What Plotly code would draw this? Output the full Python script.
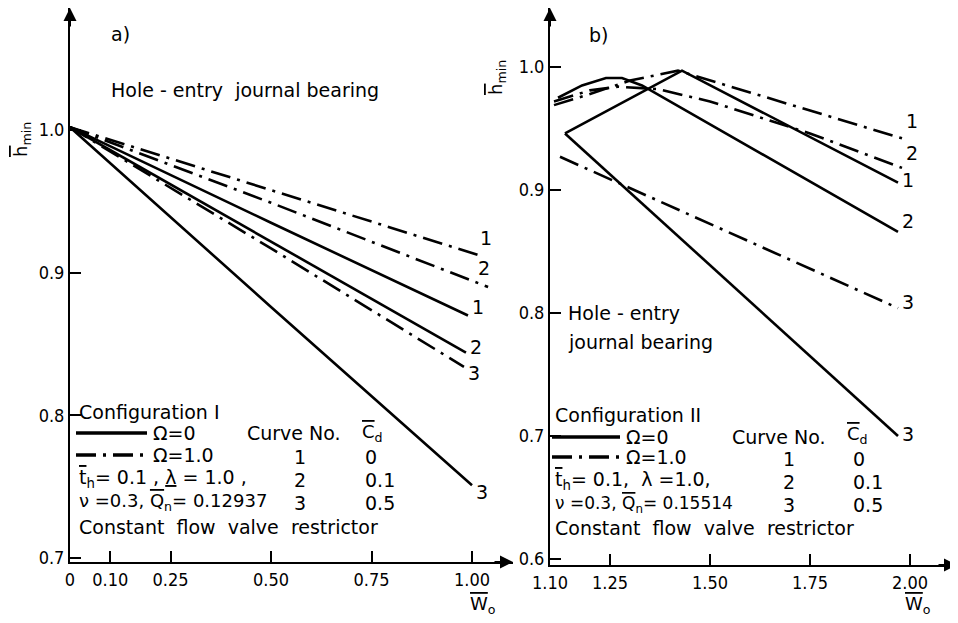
import plotly.graph_objects as go

# ---------------- data: panel a (Configuration I) ----------------
a_solid1_w = [0.0, 0.50, 0.99]
a_solid1_h = [1.002, 0.935, 0.870]
a_solid2_w = [0.0, 0.50, 0.985]
a_solid2_h = [1.002, 0.922, 0.844]
a_solid3_w = [0.0, 0.50, 1.00]
a_solid3_h = [1.002, 0.876, 0.751]
a_dd1_w = [0.0, 0.50, 1.02]
a_dd1_h = [1.002, 0.958, 0.912]
a_dd2_w = [0.0, 0.50, 1.04]
a_dd2_h = [1.002, 0.949, 0.890]
a_dd3_w = [0.0, 0.50, 0.98]
a_dd3_h = [1.002, 0.917, 0.834]

a_xticks = [0.0, 0.10, 0.25, 0.50, 0.75, 1.00]
a_xticktext = ["0", "0.10", "0.25", "0.50", "0.75", "1.00"]
a_yticks = [0.7, 0.8, 0.9, 1.0]
a_yticktext = ["0.7", "0.8", "0.9", "1.0"]

# ---------------- data: panel b (Configuration II) ----------------
b_solid1_w = [1.1375, 1.43, 1.97]
b_solid1_h = [0.946, 0.997, 0.906]
b_solid2_w = [1.12, 1.18, 1.24, 1.28, 1.33, 1.97]
b_solid2_h = [0.975, 0.985, 0.991, 0.991, 0.985, 0.866]
b_solid3_w = [1.1375, 1.97]
b_solid3_h = [0.946, 0.700]
b_dd1_w = [1.11, 1.20, 1.30, 1.42, 1.98]
b_dd1_h = [0.969, 0.978, 0.989, 0.997, 0.942]
b_dd2_w = [1.11, 1.20, 1.27, 1.37, 1.50, 1.75, 1.98]
b_dd2_h = [0.972, 0.981, 0.984, 0.982, 0.972, 0.946, 0.918]
b_dd3_w = [1.125, 1.97]
b_dd3_h = [0.927, 0.804]

b_xticks = [1.10, 1.25, 1.50, 1.75, 2.00]
b_xticktext = ["1.10", "1.25", "1.50", "1.75", "2.00"]
b_yticks = [0.6, 0.7, 0.8, 0.9, 1.0]
b_yticktext = ["0.6", "0.7", "0.8", "0.9", "1.0"]

curve_nums = ["1", "2", "3"]
cd_vals = ["0", "0.1", "0.5"]

# ---------------- figure ----------------
W, H = 958, 623
OFF = 8  # page body margin
FONT = "DejaVu Sans"
TFONT = "DejaVu Sans Condensed, DejaVu Sans"
FS = 19
DD = "20px,7px,3px,7px"


def px(x):
    return (x - OFF) / W


def py(y):
    return 1 - (y - OFF) / H


def ol(s):
    return "<span style='text-decoration:overline'>" + s + "</span>"


fig = go.Figure()


def add(xs, ys, dash, xa, ya):
    fig.add_trace(go.Scatter(x=xs, y=ys, mode="lines", xaxis=xa, yaxis=ya,
                             line=dict(color="black", width=2.6, dash=dash),
                             hoverinfo="skip", showlegend=False))


add(a_solid1_w, a_solid1_h, "solid", "x", "y")
add(a_solid2_w, a_solid2_h, "solid", "x", "y")
add(a_solid3_w, a_solid3_h, "solid", "x", "y")
add(a_dd1_w, a_dd1_h, DD, "x", "y")
add(a_dd2_w, a_dd2_h, DD, "x", "y")
add(a_dd3_w, a_dd3_h, DD, "x", "y")

add(b_solid1_w, b_solid1_h, "solid", "x2", "y2")
add(b_solid2_w, b_solid2_h, "solid", "x2", "y2")
add(b_solid3_w, b_solid3_h, "solid", "x2", "y2")
add(b_dd1_w, b_dd1_h, DD, "x2", "y2")
add(b_dd2_w, b_dd2_h, DD, "x2", "y2")
add(b_dd3_w, b_dd3_h, DD, "x2", "y2")

axis_common = dict(showline=True, linecolor="black", linewidth=2, ticks="inside",
                   ticklen=11, tickwidth=1.6, tickcolor="black", showgrid=False,
                   zeroline=False, automargin=False,
                   tickfont=dict(family=TFONT, size=18, color="black"))

a_xr = [0.0, (513 - 70) / 402]
a_yr = [1 - (562 - 130) / 1427, 1 + (130 - 8) / 1427]
b_xr = [1.10, 1.10 + (957 - 550) / 400]
b_yr = [1 - (565 - 67) / 1230, 1 + (67 - 8) / 1230]

fig.update_layout(
    width=W, height=H, margin=dict(l=0, r=0, t=0, b=0, pad=0, autoexpand=False),
    paper_bgcolor="white", plot_bgcolor="rgba(0,0,0,0)",
    font=dict(family=FONT, color="black", size=FS),
    xaxis=dict(domain=[px(70), px(513)], range=a_xr, anchor="y",
               tickvals=a_xticks, ticktext=a_xticktext, **axis_common),
    yaxis=dict(domain=[py(562), py(8)], range=a_yr, anchor="x",
               tickvals=a_yticks, ticktext=a_yticktext, **axis_common),
    xaxis2=dict(domain=[px(550), px(957)], range=b_xr, anchor="y2",
                tickvals=b_xticks, ticktext=b_xticktext, **axis_common),
    yaxis2=dict(domain=[py(565), py(8)], range=b_yr, anchor="x2",
                tickvals=b_yticks, ticktext=b_yticktext, **axis_common),
)

ann = []


def arrow(xref, yref, x, y, axp, ayp):
    ann.append(dict(xref=xref, yref=yref, x=x, y=y, ax=axp, ay=ayp, text="",
                    showarrow=True, arrowhead=2, arrowsize=1.3, arrowwidth=2,
                    arrowcolor="black", axref="pixel", ayref="pixel"))


arrow("x", "y", a_xr[1], a_yr[0], -20, 0)
arrow("x", "y", 0.0, a_yr[1], 0, 20)
arrow("x2", "y2", b_xr[1], b_yr[0], -20, 0)
arrow("x2", "y2", 1.10, b_yr[1], 0, 20)


def txt(x, y, s, size=FS, xanchor="left", angle=0):
    ann.append(dict(xref="paper", yref="paper", x=px(x), y=py(y), text=s,
                    showarrow=False, xanchor=xanchor, yanchor="middle",
                    textangle=angle, borderpad=0,
                    font=dict(family=FONT, size=size, color="black")))


def dtxt(xref, yref, x, y, s, size=FS):
    ann.append(dict(xref=xref, yref=yref, x=x, y=y, text=s, showarrow=False,
                    xanchor="left", yanchor="middle", xshift=3, borderpad=0,
                    font=dict(family=FONT, size=size, color="black")))


# axis titles
txt(22, 140, ol("h") + "<sub>min</sub>", 18, "center", -90)
txt(497, 78, ol("h") + "<sub>min</sub>", 18, "center", -90)
txt(483, 605, ol("W") + "<sub>o</sub>", 18, "center")
txt(918, 605, ol("W") + "<sub>o</sub>", 18, "center")

# panel labels
txt(110, 34, "a)")
txt(588, 35, "b)")
txt(110, 90, "Hole - entry  journal bearing")
txt(567, 313, "Hole - entry")
txt(567, 342, "journal bearing")

# curve labels panel a
dtxt("x", "y", a_dd1_w[-1] - 0.01, a_dd1_h[-1] + 0.012, curve_nums[0])
dtxt("x", "y", a_dd2_w[-1] - 0.035, a_dd2_h[-1] + 0.013, curve_nums[1])
dtxt("x", "y", a_solid1_w[-1], a_solid1_h[-1] + 0.006, curve_nums[0])
dtxt("x", "y", a_solid2_w[-1], a_solid2_h[-1] + 0.004, curve_nums[1])
dtxt("x", "y", a_dd3_w[-1], a_dd3_h[-1] - 0.004, curve_nums[2])
dtxt("x", "y", a_solid3_w[-1], a_solid3_h[-1] - 0.005, curve_nums[2])

# curve labels panel b
dtxt("x2", "y2", b_dd1_w[-1], b_dd1_h[-1] + 0.014, curve_nums[0])
dtxt("x2", "y2", b_dd2_w[-1], b_dd2_h[-1] + 0.012, curve_nums[1])
dtxt("x2", "y2", b_solid1_w[-1], b_solid1_h[-1] + 0.002, curve_nums[0])
dtxt("x2", "y2", b_solid2_w[-1], b_solid2_h[-1] + 0.009, curve_nums[1])
dtxt("x2", "y2", b_dd3_w[-1], b_dd3_h[-1] + 0.005, curve_nums[2])
dtxt("x2", "y2", b_solid3_w[-1], b_solid3_h[-1] + 0.002, curve_nums[2])

# legend blocks
shapes = []


def sample(x0, x1, y, dash):
    shapes.append(dict(type="line", xref="paper", yref="paper", x0=px(x0), x1=px(x1),
                       y0=py(y), y1=py(y), line=dict(color="black", width=3.5, dash=dash)))


txt(78, 412, "Configuration I")
sample(76, 147, 433, "solid")
sample(76, 147, 455, DD)
txt(152, 433, "Ω=0")
txt(152, 455, "Ω=1.0")
txt(246, 433, "Curve No.")
txt(361, 433, ol("C") + "<sub>d</sub>", 18)
txt(78, 478, ol("t") + "<sub>h</sub>= 0.1 , <span style='text-decoration:underline'>λ</span> = 1.0 ,")
txt(78, 502, "ν =0.3, " + ol("Q") + "<sub>n</sub>= 0.12937", 18)
txt(78, 527, "Constant  flow  valve  restrictor")
for i, yy in enumerate([457, 480, 503]):
    txt(300, yy, curve_nums[i], FS, "center")
    txt(364, yy, cd_vals[i])

txt(554, 415, "Configuration II")
sample(552, 620, 437, "solid")
sample(552, 620, 457, DD)
txt(625, 437, "Ω=0")
txt(625, 457, "Ω=1.0")
txt(731, 437, "Curve No.")
txt(846, 435, ol("C") + "<sub>d</sub>", 18)
txt(554, 480, ol("t") + "<sub>h</sub>= 0.1,  λ =1.0,")
txt(554, 505, "ν =0.3, " + ol("Q") + "<sub>n</sub>= 0.15514", 17)
txt(554, 528, "Constant  flow  valve  restrictor")
for i, yy in enumerate([459, 482, 505]):
    txt(789, yy, curve_nums[i], FS, "center")
    txt(852, yy, cd_vals[i])

fig.update_layout(annotations=ann, shapes=shapes)
fig.write_html("out.html")
